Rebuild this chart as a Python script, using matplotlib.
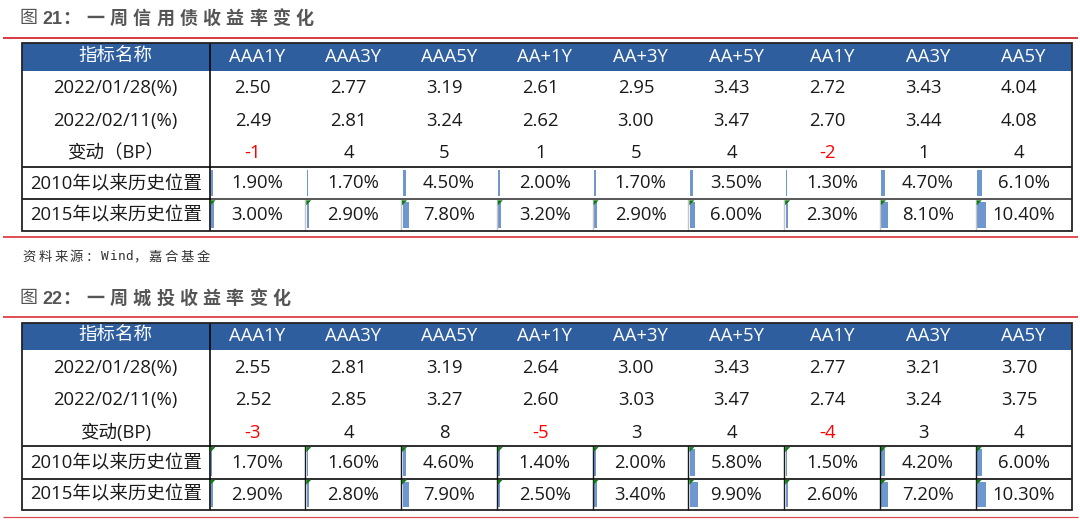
import matplotlib
matplotlib.use("Agg")
import matplotlib.pyplot as plt
from matplotlib.patches import Rectangle, Polygon

# ---------------- data ----------------
columns = ['AAA1Y', 'AAA3Y', 'AAA5Y', 'AA+1Y', 'AA+3Y', 'AA+5Y', 'AA1Y', 'AA3Y', 'AA5Y']

t1_title = ['图', '21', '：', '一周信用债收益率变化']
t1_labels = ['指标名称', '2022/01/28(%)', '2022/02/11(%)', '变动（BP）',
             '2010年以来历史位置', '2015年以来历史位置']
t1_0128 = [2.50, 2.77, 3.19, 2.61, 2.95, 3.43, 2.72, 3.43, 4.04]
t1_0211 = [2.49, 2.81, 3.24, 2.62, 3.00, 3.47, 2.70, 3.44, 4.08]
t1_bp = [-1, 4, 5, 1, 5, 4, -2, 1, 4]
t1_2010 = [1.90, 1.70, 4.50, 2.00, 1.70, 3.50, 1.30, 4.70, 6.10]
t1_2015 = [3.00, 2.90, 7.80, 3.20, 2.90, 6.00, 2.30, 8.10, 10.40]

t2_title = ['图', '22', '：', '一周城投收益率变化']
t2_labels = ['指标名称', '2022/01/28(%)', '2022/02/11(%)', '变动(BP)',
             '2010年以来历史位置', '2015年以来历史位置']
t2_0128 = [2.55, 2.81, 3.19, 2.64, 3.00, 3.43, 2.77, 3.21, 3.70]
t2_0211 = [2.52, 2.85, 3.27, 2.60, 3.03, 3.47, 2.74, 3.24, 3.75]
t2_bp = [-3, 4, 8, -5, 3, 4, -4, 3, 4]
t2_2010 = [1.70, 1.60, 4.60, 1.40, 2.00, 5.80, 1.50, 4.20, 6.00]
t2_2015 = [2.90, 2.80, 7.90, 2.50, 3.40, 9.90, 2.60, 7.20, 10.30]

source_text = '资料来源：Wind，嘉合基金'

# ---------------- style ----------------
W, H = 1080, 532
PT = 72 / 100.0  # pixel -> points
BLUE = '#2F5E9E'
BAR = '#6D97CE'
GREEN = '#0E7A12'
RED_LINE = '#D7282F'
TXT = '#1a1a1a'
TITLE_C = '#555555'
CJK = ['Open Sans', 'Noto Sans CJK SC', 'DejaVu Sans']
FS = 13.3

fig = plt.figure(figsize=(W / 100, H / 100), dpi=100)
ax = fig.add_axes([0, 0, 1, 1])
ax.set_xlim(0, W)
ax.set_ylim(H, 0)
ax.axis('off')

X0, XL, X1 = 22, 209.5, 1071.5
CW = (X1 - XL) / 9


def hline(x0, x1, y, color='black', lw=1.5):
    ax.plot([x0, x1], [y, y], color=color, lw=lw * PT, solid_capstyle='butt', zorder=5)


def vline(x, y0, y1, color='black', lw=1.5):
    ax.plot([x, x], [y0, y1], color=color, lw=lw * PT, solid_capstyle='butt', zorder=5)


def draw_title(parts, y):
    ax.text(19.5, y, parts[0], family=['Noto Sans CJK SC'], fontsize=13, color=TITLE_C,
            ha='left', va='center')
    ax.text(42.5, y + 0.8, parts[1], family=['Liberation Sans'], fontweight='bold',
            fontsize=13, color=TITLE_C, ha='left', va='center')
    ax.text(71, y, parts[2], family=['Noto Sans CJK SC'], fontsize=13, color=TITLE_C,
            fontweight='bold', ha='center', va='center')
    for k, ch in enumerate(parts[3]):
        ax.text(95.5 + 23.2 * k, y, ch, family=['Noto Sans CJK SC'], fontsize=13,
                fontweight='bold', color=TITLE_C, ha='center', va='center')


def draw_source(text, x, y):
    cx = x
    for ch in text:
        if ord(ch) < 128:
            ax.text(cx, y, ch, family=['DejaVu Sans Mono'], fontsize=9.2, color='#333333',
                    ha='left', va='center')
            cx += 7.9
        else:
            ax.text(cx, y, ch, family=['Noto Sans CJK SC'], fontsize=9.6, color='#333333',
                    ha='left', va='center')
            cx += 15.8


def draw_table(y0, labels, r1, r2, bp, p10, p15, tri10, gray_inner):
    top = y0
    hb = y0 + 27.4
    r5 = y0 + 123.4
    r6 = y0 + 156.0
    bot = y0 + 187.4
    # header fill
    ax.add_patch(Rectangle((X0, top), X1 - X0, hb - top, facecolor=BLUE, edgecolor='none', zorder=1))
    # header text
    ax.text((X0 + XL) / 2, (top + hb) / 2, labels[0], family=CJK, fontsize=FS, color='white',
            ha='center', va='center', zorder=6)
    for j, c in enumerate(columns):
        ax.text(XL + CW * (j + 0.5), (top + hb) / 2, c, family=CJK, fontsize=FS, color='white',
                ha='center', va='center', zorder=6)
    # label column
    ys = [y0 + 45.0, y0 + 77.4, y0 + 110.0, y0 + 140.7, y0 + 171.7]
    for lab, yy in zip(labels[1:], ys):
        ax.text((X0 + XL) / 2, yy, lab, family=CJK, fontsize=FS, color=TXT,
                ha='center', va='center', zorder=6)
    # numeric rows
    for j in range(9):
        cx = XL + CW * (j + 0.5) - 4.5
        ax.text(cx, ys[0], f'{r1[j]:.2f}', family=CJK, fontsize=FS, color=TXT,
                ha='center', va='center', zorder=6)
        ax.text(cx, ys[1], f'{r2[j]:.2f}', family=CJK, fontsize=FS, color=TXT,
                ha='center', va='center', zorder=6)
        ax.text(cx, ys[2], f'{bp[j]:d}', family=CJK, fontsize=FS,
                color='#FF0000' if bp[j] < 0 else TXT, ha='center', va='center', zorder=6)
    # percentage rows with data bars
    for (vals, ya, yb, tri) in [(p10, r5, r6, tri10), (p15, r6, bot, True)]:
        for j in range(9):
            xl = XL + CW * j
            ax.add_patch(Rectangle((xl + 1.5, ya + 3), max(0.85 * vals[j], 1.0), (yb - ya) - 6,
                                   facecolor=BAR, edgecolor='none', zorder=2))
            ax.text(xl + CW / 2, (ya + yb) / 2 + 0.3, f'{vals[j]:.2f}%', family=CJK, fontsize=FS,
                    color=TXT, ha='center', va='center', zorder=6)
            if tri:
                ax.add_patch(Polygon([(xl + 1, ya + 1), (xl + 6, ya + 1), (xl + 1, ya + 6)],
                                     closed=True, facecolor=GREEN, edgecolor='none', zorder=6))
            if j > 0:
                if gray_inner:
                    col = '#c4c4c4' if vals is p15 else None
                else:
                    col = '#1a1a1a'
                if col:
                    vline(xl, ya, yb, color=col, lw=1.4)
    # grid lines
    inner = '#333333'
    hline(X0, X1, r5, color='black', lw=1.6)
    hline(X0, XL, r6, color='black', lw=1.6)
    hline(XL, X1, r6, color=inner if gray_inner else 'black', lw=1.6)
    vline(XL, top, bot, color='black', lw=1.6)
    # outer border
    ax.add_patch(Rectangle((X0, top), X1 - X0, bot - top, facecolor='none',
                           edgecolor='#222222', lw=1.8 * PT, zorder=7))


# ---------------- figure 21 ----------------
draw_title(t1_title, 18.3)
hline(3, 1078, 37.5, color=RED_LINE, lw=1.8)
draw_table(43.3, t1_labels, t1_0128, t1_0211, t1_bp, t1_2010, t1_2015, False, True)
hline(3, 1078, 237.3, color=RED_LINE, lw=1.6)
draw_source(source_text, 22.5, 256.7)

# ---------------- figure 22 ----------------
draw_title(t2_title, 298.3)
hline(3, 1078, 316.7, color=RED_LINE, lw=1.6)
draw_table(322.7, t2_labels, t2_0128, t2_0211, t2_bp, t2_2010, t2_2015, True, False)
hline(3, 1078, 516.7, color='#E0474C', lw=1.2)

fig.savefig('out.png', dpi=100, facecolor='white')
